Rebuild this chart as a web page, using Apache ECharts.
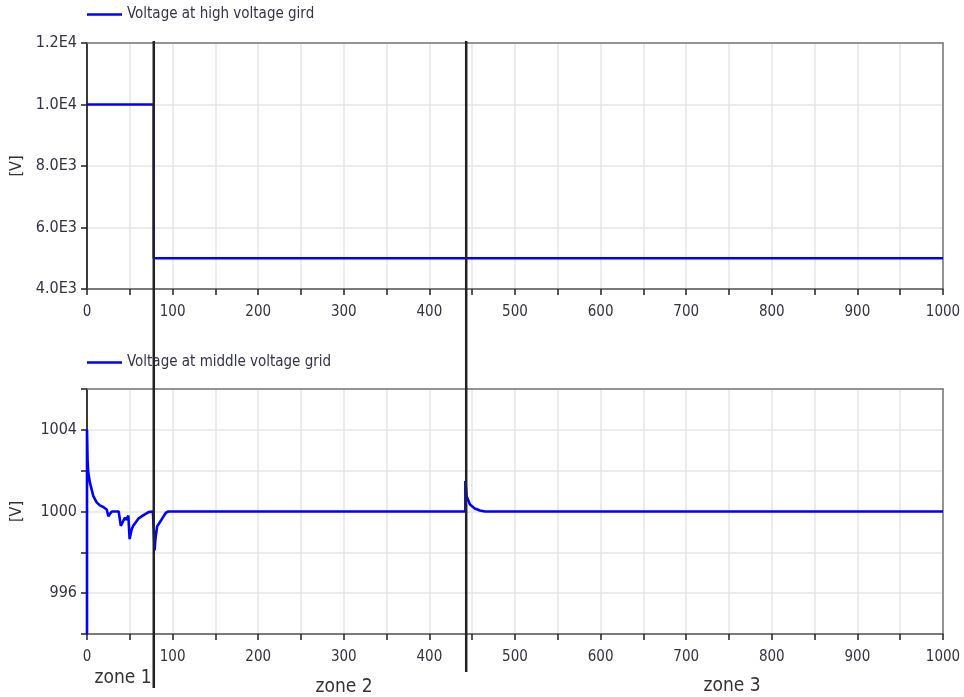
<!DOCTYPE html>
<html>
<head>
<meta charset="utf-8">
<script src="https://cdn.jsdelivr.net/npm/echarts@6/dist/echarts.min.js"></script>
<style>html,body{margin:0;padding:0;background:#fff}#c{width:964px;height:697px}</style>
</head>
<body>
<div id="c"></div>
<script>
// ---- data ----
const highName = 'Voltage at high voltage gird';
const midName = 'Voltage at middle voltage grid';
const highX = [0, 78, 78, 1000];
const highV = [10000, 10000, 5000, 5000];
const midX = [0, 0, 0.7, 1.5, 3.5, 7.4, 11.3, 15, 19, 23, 25, 27, 29, 37, 39.5, 42, 44.4, 46, 48.3, 49.8, 52, 54, 60, 66, 72, 77, 78.5, 79, 80, 82, 87, 92, 95, 442, 442, 443.5, 447.4, 453, 459, 465, 1000];
const midV = [994, 1004, 1002.5, 1001.9, 1001.4, 1000.75, 1000.45, 1000.3, 1000.22, 1000.1, 999.77, 999.9, 1000, 1000, 999.3, 999.5, 999.7, 999.6, 999.8, 998.65, 999.1, 999.3, 999.65, 999.82, 999.97, 1000, 1000, 998.1, 998.7, 999.28, 999.6, 999.93, 1000, 1000, 1001.5, 1000.75, 1000.34, 1000.15, 1000.05, 1000, 1000];
const zoneBounds = [78, 443];
const zoneLabels = ['zone 1', 'zone 2', 'zone 3'];
const xTicks = {min: 0, max: 1000, step: 50, labelStep: 100};
const highTicks = {min: 4000, max: 12000, step: 2000};
const midTicks = {min: 994, max: 1006, step: 2, labelStep: 4};

const FONT = "'Liberation Sans Narrow','DejaVu Sans Condensed',Arial,sans-serif";
const LBL = '#333344';

function pair(xs, ys){ return xs.map((x,i)=>[x, ys[i]]); }
function expFmt(v){
  const e = Math.floor(Math.log10(Math.abs(v)));
  return (v/Math.pow(10,e)).toFixed(1) + 'E' + e;
}

const chart = echarts.init(document.getElementById('c'), null, {renderer:'canvas'});

function xAxis(gi){
  return {
    type:'value', gridIndex: gi, min: xTicks.min, max: xTicks.max, interval: xTicks.step,
    axisLine:{show:true, onZero:false, lineStyle:{color:'#555', width:1.5}},
    axisTick:{show:true, length:6, lineStyle:{color:'#222', width:1.5}},
    axisLabel:{fontFamily:FONT, fontSize:15, color:LBL, margin:16,
      formatter: v => (v % xTicks.labelStep === 0 ? String(v) : '')},
    splitLine:{show:true, lineStyle:{color:'#e6e6e6', width:1.5}}
  };
}
function xBorder(gi){
  return {type:'value', gridIndex:gi, position:'top', min:xTicks.min, max:xTicks.max,
    axisLine:{show:true, onZero:false, lineStyle:{color:'#777', width:1.5}},
    axisTick:{show:false}, axisLabel:{show:false}, splitLine:{show:false}};
}
function yBorder(gi, t){
  return {type:'value', gridIndex:gi, position:'right', min:t.min, max:t.max,
    axisLine:{show:true, onZero:false, lineStyle:{color:'#777', width:1.5}},
    axisTick:{show:false}, axisLabel:{show:false}, splitLine:{show:false}};
}

const option = {
  animation:false,
  backgroundColor:'#fff',
  legend:[
    {data:[highName], left:87, top:7, padding:0, icon:'rect', itemWidth:35, itemHeight:2.5,
     textStyle:{fontFamily:FONT, fontSize:15, color:'#33334a'}},
    {data:[midName], left:87, top:355, padding:0, icon:'rect', itemWidth:35, itemHeight:2.5,
     textStyle:{fontFamily:FONT, fontSize:15, color:'#33334a'}}
  ],
  grid:[
    {left:87, right:21, top:43, height:246, containLabel:false, outerBoundsMode:'none'},
    {left:87, right:21, top:389, height:245, containLabel:false, outerBoundsMode:'none'}
  ],
  xAxis:[xAxis(0), xAxis(1), xBorder(0), xBorder(1)],
  yAxis:[
    {type:'value', gridIndex:0, min:highTicks.min, max:highTicks.max, interval:highTicks.step,
     name:'[V]', nameLocation:'middle', nameGap:62, nameRotate:90,
     nameTextStyle:{fontFamily:FONT, fontSize:16, color:'#333'},
     axisLine:{show:true, lineStyle:{color:'#000', width:1.5}},
     axisTick:{show:true, length:6, lineStyle:{color:'#222', width:1.5}},
     axisLabel:{fontFamily:FONT, fontSize:16, color:LBL, margin:10, formatter: expFmt},
     splitLine:{show:true, lineStyle:{color:'#e6e6e6', width:1.5}}},
    {type:'value', gridIndex:1, min:midTicks.min, max:midTicks.max, interval:midTicks.step,
     name:'[V]', nameLocation:'middle', nameGap:62, nameRotate:90,
     nameTextStyle:{fontFamily:FONT, fontSize:16, color:'#333'},
     axisLine:{show:true, lineStyle:{color:'#000', width:1.5}},
     axisTick:{show:true, length:6, lineStyle:{color:'#222', width:1.5}},
     axisLabel:{fontFamily:FONT, fontSize:16, color:LBL, margin:10,
       formatter: v => (v % midTicks.labelStep === 0 ? String(v) : '')},
     splitLine:{show:true, lineStyle:{color:'#e6e6e6', width:1.5}}},
    yBorder(0, highTicks), yBorder(1, midTicks)
  ],
  series:[
    {name:highName, type:'line', xAxisIndex:0, yAxisIndex:0, data:pair(highX, highV),
     symbol:'none', clip:true, lineStyle:{color:'#0000ff', width:2.5}, itemStyle:{color:'#0000ff'}},
    {name:midName, type:'line', xAxisIndex:1, yAxisIndex:1, data:pair(midX, midV),
     symbol:'none', clip:true, lineStyle:{color:'#0000ff', width:2.6}, itemStyle:{color:'#0000ff'}}
  ]
};
chart.setOption(option);

// vertical zone boundary lines spanning both plots, positioned via the axes
const g = [];
const ends = [688, 672];
zoneBounds.forEach((b, i) => {
  const top = chart.convertToPixel({xAxisIndex:0, yAxisIndex:0}, [b, highTicks.max]);
  g.push({type:'line', z:100, shape:{x1:top[0], y1:top[1]-2, x2:top[0], y2:ends[i]},
          style:{stroke:'#222', lineWidth:2.5}});
});
const zonePos = [[123, 678], [344, 687], [732, 686]];
zoneLabels.forEach((t, i) => {
  g.push({type:'text', z:100, x:zonePos[i][0], y:zonePos[i][1],
    style:{text:t, fontFamily:FONT, fontSize:19, fill:'#333', align:'center', verticalAlign:'middle'}});
});
chart.setOption({graphic:g});
</script>
</body>
</html>
